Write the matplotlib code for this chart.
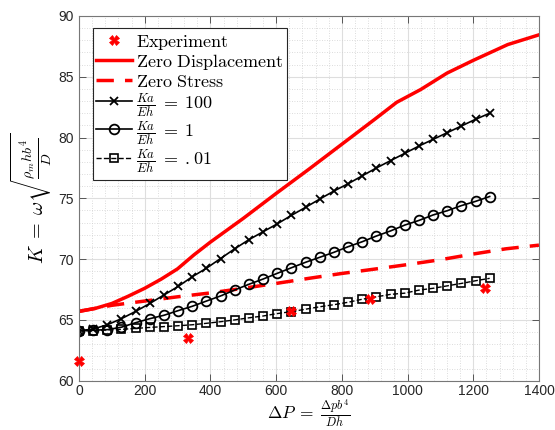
import numpy as np
import matplotlib
matplotlib.use("Agg")
import matplotlib.pyplot as plt
from matplotlib.ticker import MultipleLocator

plt.rcParams['mathtext.fontset'] = 'cm'
plt.rcParams['font.family'] = ['Liberation Sans', 'DejaVu Sans']

# Measured frequencies
dp_exp = [0, 333, 645, 886, 1236]
k_exp = [61.6, 63.5, 65.7, 66.7, 67.6]

# Clamped-edge (zero displacement) model
dp_zd = [0, 50, 100, 150, 200, 250, 300, 350, 400, 500, 600, 700, 800, 900, 967, 1040, 1120, 1200, 1305, 1400]
k_zd = [65.7, 65.95, 66.35, 66.95, 67.6, 68.35, 69.2, 70.35, 71.4, 73.35, 75.4, 77.4, 79.45, 81.5, 82.9, 83.95, 85.3, 86.35, 87.65, 88.45]

# Free-edge (zero stress) model
dp_zs = [0, 100, 200, 300, 400, 500, 600, 700, 800, 900, 1000, 1100, 1200, 1300, 1400]
k_zs = [65.7, 66.2, 66.55, 66.9, 67.22, 67.6, 68.0, 68.42, 68.82, 69.18, 69.55, 69.95, 70.42, 70.85, 71.15]

# Spring-supported edge models
dp_model = [0, 43.1, 86.2, 129.3, 172.4, 215.5, 258.6, 301.7, 344.8, 387.9,
            431.0, 474.1, 517.2, 560.3, 603.4, 646.6, 689.7, 732.8, 775.9, 819.0,
            862.1, 905.2, 948.3, 991.4, 1034.5, 1077.6, 1120.7, 1163.8, 1206.9, 1250]
k_100 = [64.1, 64.25, 64.6, 65.1, 65.7, 66.35, 67.05, 67.75, 68.55, 69.25,
         70.05, 70.85, 71.6, 72.25, 72.9, 73.6, 74.26, 74.94, 75.6, 76.2,
         76.85, 77.5, 78.1, 78.7, 79.3, 79.85, 80.4, 80.95, 81.5, 82.0]
k_1 = [64.1, 64.15, 64.2, 64.4, 64.77, 65.1, 65.38, 65.76, 66.12, 66.55,
       66.97, 67.46, 67.93, 68.36, 68.83, 69.29, 69.74, 70.15, 70.56, 71.02,
       71.43, 71.9, 72.32, 72.8, 73.18, 73.63, 73.98, 74.4, 74.75, 75.15]
k_001 = [64.1, 64.12, 64.17, 64.22, 64.3, 64.38, 64.45, 64.52, 64.6, 64.72,
         64.85, 65.0, 65.17, 65.32, 65.52, 65.68, 65.88, 66.08, 66.25, 66.45,
         66.7, 66.9, 67.1, 67.2, 67.45, 67.6, 67.8, 68.0, 68.22, 68.42]

x_ticks = [0, 200, 400, 600, 800, 1000, 1200, 1400]
y_ticks = [60, 65, 70, 75, 80, 85, 90]

fig = plt.figure(figsize=(5.55, 4.3), dpi=100)
ax = fig.add_axes([0.1423, 0.1147, 0.8288, 0.8481])

ax.plot(dp_exp, k_exp, linestyle='none', marker='X', color='#ff0000',
        markersize=7, markeredgewidth=0.5, label=r'$\mathrm{Experiment}$',
        zorder=5, clip_on=False)
ax.plot(dp_zd, k_zd, '-', color='#ff0000', lw=2.5, label=r'$\mathrm{Zero\ Displacement}$')
ax.plot(dp_zs, k_zs, '--', color='#ff0000', lw=2.5, dashes=(5, 3.2), label=r'$\mathrm{Zero\ Stress}$')
ax.plot(dp_model, k_100, '-', color='k', lw=1.2, marker='x', markersize=6,
        markeredgewidth=1.3, label=r'$\frac{Ka}{Eh}\;=\;100$')
ax.plot(dp_model, k_1, '-', color='k', lw=1.2, marker='o', markersize=7,
        markerfacecolor='none', markeredgewidth=1.3, label=r'$\frac{Ka}{Eh}\;=\;1$')
ax.plot(dp_model, k_001, '--', color='k', lw=1.0, marker='s', markersize=6,
        markerfacecolor='none', markeredgewidth=1.2, label=r'$\frac{Ka}{Eh}\;=\;.01$')

ax.set_xlim(0, 1400)
ax.set_ylim(60, 90)
ax.set_xticks(x_ticks)
ax.set_yticks(y_ticks)
ax.xaxis.set_minor_locator(MultipleLocator(40))
ax.yaxis.set_minor_locator(MultipleLocator(1))

ax.grid(which='major', color='#dedede', lw=0.8, ls='-')
ax.grid(which='minor', color='#d0d0d0', lw=0.6, ls=(0, (1, 2)))
ax.set_axisbelow(True)

ax.tick_params(which='major', direction='in', length=5, width=0.7,
               top=True, right=True, labelsize=10, labelcolor='#262626',
               color='#555555')
ax.tick_params(axis='x', which='major', pad=2.5)
ax.tick_params(which='minor', length=0, top=True, right=True)
for sp in ax.spines.values():
    sp.set_color('#777777')
    sp.set_linewidth(0.8)

ax.set_xlabel(r'$\Delta P\;=\;\frac{\Delta p b^4}{Dh}$', fontsize=12.5, labelpad=0)
ax.set_ylabel(r'$K\;=\;\omega\sqrt{\frac{\rho_m h b^4}{D}}$', fontsize=14.5, labelpad=3)

leg = ax.legend(loc='upper left', bbox_to_anchor=(0.0298, 0.966), borderaxespad=0,
                fontsize=13, handlelength=2.0, handletextpad=0.2, handleheight=1.15,
                labelspacing=0.0, borderpad=0.2, fancybox=False, framealpha=1)
leg.get_frame().set_edgecolor('#262626')
leg.get_frame().set_linewidth(0.8)

fig.savefig('out.png', dpi=100)
